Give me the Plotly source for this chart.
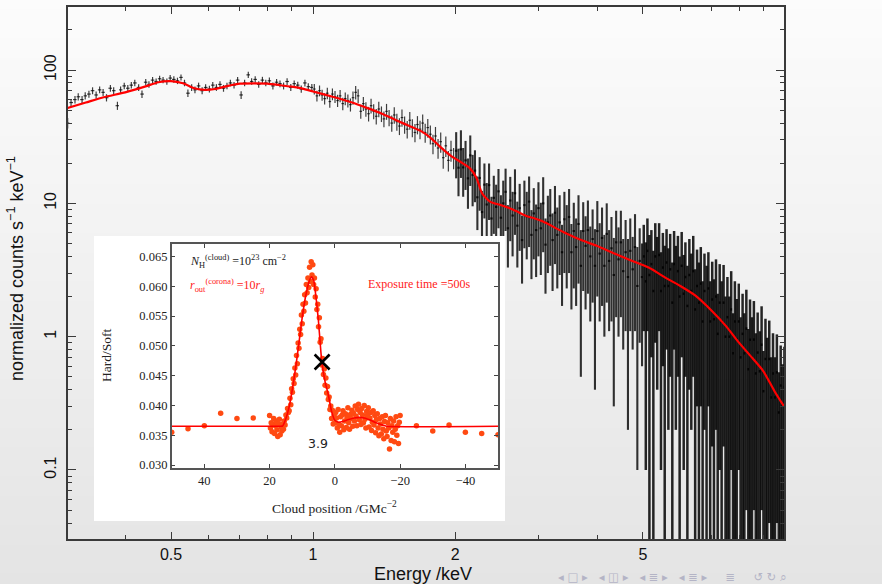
import numpy as np
import plotly.graph_objects as go

# ---------------- main spectrum data (energy keV, counts, 1-sigma error) ----------------
energy_a = [0.302, 0.307, 0.313, 0.318, 0.324, 0.329, 0.335, 0.341, 0.347, 0.353,
            0.359, 0.365, 0.372, 0.378, 0.385, 0.391, 0.398, 0.405, 0.412, 0.419,
            0.427, 0.434, 0.442, 0.449, 0.457, 0.465, 0.473, 0.481, 0.490, 0.498,
            0.507, 0.516, 0.525, 0.534, 0.543, 0.553, 0.562, 0.572, 0.582, 0.592,
            0.603, 0.613, 0.624, 0.635, 0.646, 0.657, 0.668, 0.680, 0.692, 0.704,
            0.716, 0.729, 0.741, 0.754, 0.767, 0.781, 0.794, 0.808, 0.822, 0.837,
            0.851, 0.866, 0.881, 0.897, 0.912, 0.928, 0.944, 0.961, 0.977, 0.994]
counts_a = [40, 57, 60, 63, 60, 64, 66, 70, 65, 71,
            68, 62, 73, 70, 54, 71, 76, 73, 77, 80,
            74, 66, 81, 78, 84, 82, 86, 84, 82, 87,
            85, 83, 88, 80, 67, 74, 71, 76, 70, 74,
            72, 77, 74, 78, 73, 76, 80, 77, 84, 65,
            80, 92, 82, 85, 78, 84, 80, 83, 76, 81,
            79, 76, 82, 74, 79, 77, 72, 80, 75, 74]
errors_a = [3.6, 3.7, 3.8, 3.9, 3.8, 4.0, 4.0, 4.2, 4.0, 4.2,
            4.1, 3.9, 4.3, 4.2, 3.8, 4.2, 4.4, 4.3, 4.4, 4.5,
            4.3, 4.2, 4.5, 4.4, 4.6, 4.5, 4.7, 4.6, 4.5, 4.7,
            4.6, 4.6, 4.7, 4.5, 4.3, 4.3, 4.2, 4.4, 4.2, 4.3,
            4.3, 4.4, 4.3, 4.5, 4.3, 4.4, 4.5, 4.4, 4.6, 4.3,
            4.5, 4.9, 4.6, 4.7, 4.5, 4.9, 4.6, 4.7, 4.5, 4.6,
            4.6, 4.5, 4.7, 4.5, 4.6, 4.6, 4.4, 4.7, 4.6, 4.6]

energy_b = [1.006, 1.019, 1.032, 1.045, 1.058, 1.072, 1.085, 1.099, 1.113, 1.127,
            1.141, 1.156, 1.170, 1.185, 1.200, 1.215, 1.231, 1.246, 1.262, 1.278,
            1.294, 1.311, 1.327, 1.344, 1.361, 1.378, 1.396, 1.413, 1.431, 1.449,
            1.468, 1.486, 1.505, 1.524, 1.543, 1.563, 1.583, 1.603, 1.623, 1.644,
            1.664, 1.685, 1.707, 1.728, 1.750, 1.772, 1.795, 1.817, 1.840, 1.864,
            1.887, 1.911, 1.935, 1.960, 1.985]
counts_b = [72, 64, 70, 65, 61, 67, 58, 66, 63, 59,
            64, 56, 61, 59, 55, 62, 68, 64, 49, 56,
            51, 47, 54, 49, 45, 51, 47, 43, 49, 44,
            40, 46, 41, 38, 44, 39, 36, 42, 37, 34,
            39, 36, 40, 34, 37, 33, 28, 32, 26, 29,
            22, 27, 21, 25, 22]
errors_b = [6.5, 5.9, 6.5, 6.2, 5.9, 6.6, 5.8, 6.7, 6.5, 6.2,
            6.8, 6.0, 6.7, 6.6, 6.2, 7.1, 8.0, 7.6, 5.9, 6.8,
            6.3, 5.9, 6.9, 6.3, 5.9, 6.7, 6.3, 5.8, 6.7, 6.1,
            5.6, 6.5, 5.9, 5.5, 6.5, 5.8, 5.4, 6.4, 5.7, 5.3,
            6.1, 5.7, 6.4, 5.5, 6.0, 5.4, 4.7, 5.4, 4.4, 5.0,
            3.8, 4.7, 3.7, 4.5, 4.0]

energy_c = [2.010, 2.033, 2.057, 2.080, 2.104, 2.129, 2.153, 2.178, 2.203, 2.229,
            2.254, 2.280, 2.307, 2.333, 2.360, 2.388, 2.415, 2.443, 2.471, 2.500,
            2.529, 2.558, 2.587, 2.617, 2.647, 2.678, 2.709, 2.740, 2.772, 2.804,
            2.836, 2.869, 2.902, 2.935, 2.969, 3.003, 3.038, 3.073, 3.108, 3.144,
            3.181, 3.217, 3.255, 3.292, 3.330, 3.369, 3.408, 3.447, 3.487, 3.527,
            3.568, 3.609, 3.651, 3.693, 3.736, 3.779, 3.822, 3.867, 3.911, 3.956,
            4.002, 4.048, 4.095, 4.142, 4.190, 4.239, 4.288, 4.337, 4.387, 4.438,
            4.489, 4.541, 4.594, 4.647, 4.700, 4.755, 4.810, 4.865, 4.921, 4.978]
counts_c = [24.8, 18.5, 25.4, 18.6, 21.0, 15.4, 22.9, 16.3, 17.6, 11.1,
            15.5, 8.6, 13.8, 9.8, 13.7, 7.7, 11.0, 9.4, 12.3, 7.8,
            10.0, 12.2, 6.5, 10.5, 8.1, 11.9, 6.8, 9.2, 5.3, 9.7,
            8.0, 10.3, 5.8, 8.4, 6.3, 9.2, 6.5, 10.0, 4.9, 7.2,
            8.1, 5.3, 8.5, 5.8, 7.2, 4.3, 7.6, 6.0, 7.9, 4.3,
            6.2, 4.7, 7.0, 3.4, 6.2, 4.8, 6.3, 4.0, 5.4, 3.4,
            6.2, 4.2, 5.5, 3.4, 5.9, 3.7, 4.6, 2.9, 5.1, 3.8,
            5.1, 3.1, 4.3, 2.8, 4.4, 3.2, 4.7, 2.4, 3.7, 2.8]
errors_c = [9.4, 7.2, 9.9, 7.4, 8.4, 6.3, 9.4, 6.8, 7.4, 4.8,
            6.7, 3.8, 6.1, 4.4, 6.2, 3.5, 5.1, 4.4, 5.8, 3.7,
            4.8, 6.0, 3.2, 5.3, 4.1, 6.1, 3.5, 4.8, 2.8, 5.1,
            4.2, 5.6, 3.1, 4.6, 3.5, 5.2, 3.6, 5.7, 2.8, 4.2,
            4.7, 3.1, 5.0, 3.5, 4.3, 2.6, 4.6, 3.7, 4.9, 2.7,
            3.9, 3.0, 4.5, 2.9, 4.0, 3.2, 4.2, 2.7, 3.6, 3.0,
            4.2, 2.9, 3.8, 2.4, 4.1, 2.6, 3.3, 2.6, 3.7, 2.8,
            3.7, 2.3, 3.2, 2.6, 3.3, 2.4, 3.6, 2.3, 2.8, 2.2]

energy_d = [5.02, 5.07, 5.11, 5.16, 5.21, 5.26, 5.31, 5.36, 5.41, 5.46,
            5.51, 5.56, 5.61, 5.66, 5.71, 5.77, 5.82, 5.87, 5.93, 5.98,
            6.04, 6.10, 6.15, 6.21, 6.27, 6.33, 6.39, 6.45, 6.51, 6.57,
            6.63, 6.69, 6.75, 6.82, 6.88, 6.94, 7.01, 7.07, 7.14, 7.20,
            7.27, 7.34, 7.41, 7.48, 7.55, 7.62, 7.69, 7.76, 7.83, 7.90,
            7.98, 8.05, 8.13, 8.20, 8.28, 8.36, 8.43, 8.51, 8.59, 8.67,
            8.75, 8.84, 8.92, 9.00, 9.09, 9.17, 9.26, 9.35, 9.43, 9.52,
            9.61, 9.70, 9.79, 9.88, 9.97]
counts_d = [4.0, 2.6, 4.4, 2.9, 3.5, 2.2, 4.0, 3.0, 4.1, 2.2,
            3.3, 2.4, 3.6, 2.4, 3.2, 1.8, 3.5, 2.5, 3.1, 2.0,
            3.4, 2.1, 2.8, 1.7, 2.9, 2.2, 3.1, 1.6, 2.4, 1.8,
            2.5, 1.3, 2.2, 1.7, 2.3, 1.3, 1.9, 1.35, 2.0, 1.05,
            1.8, 1.3, 1.8, 1.0, 1.4, 1.0, 1.6, 0.75, 1.3, 0.96,
            1.3, 0.7, 1.05, 0.75, 1.15, 0.57, 0.95, 0.7, 0.95, 0.53,
            0.76, 0.55, 0.87, 0.39, 0.68, 0.49, 0.68, 0.35, 0.53, 0.35,
            0.54, 0.27, 0.43, 0.31, 0.42]
errors_d = [2.9, 2.5, 3.3, 2.9, 2.8, 2.2, 3.1, 2.6, 3.0, 2.1,
            2.7, 2.4, 2.8, 2.2, 2.7, 1.8, 2.7, 2.3, 2.6, 2.0,
            2.7, 2.0, 2.3, 1.7, 2.5, 2.0, 2.6, 1.6, 2.1, 1.8,
            2.2, 1.3, 2.0, 1.7, 2.0, 1.3, 1.75, 1.35, 1.8, 1.05,
            1.7, 1.3, 1.65, 1.0, 1.4, 1.0, 1.5, 0.75, 1.3, 0.96,
            1.2, 0.7, 1.05, 0.75, 1.1, 0.57, 0.95, 0.7, 0.9, 0.53,
            0.76, 0.55, 0.82, 0.39, 0.68, 0.49, 0.64, 0.35, 0.53, 0.35,
            0.5, 0.27, 0.43, 0.31, 0.42]

# model curve of the spectrum
model_energy = [0.30, 0.33, 0.36, 0.40, 0.44, 0.47, 0.50, 0.53, 0.56, 0.59,
                0.62, 0.66, 0.70, 0.75, 0.80, 0.85, 0.90, 0.95, 1.00, 1.10,
                1.20, 1.30, 1.40, 1.50, 1.60, 1.70, 1.77, 1.85, 1.95, 2.05,
                2.15, 2.22, 2.28, 2.37, 2.50, 2.61, 2.72, 2.84, 2.95, 3.07,
                3.39, 3.70, 3.99, 4.35, 4.69, 5.14, 5.60, 6.00, 6.45, 7.00,
                7.50, 7.97, 8.50, 9.00, 9.50, 9.95]
model_flux = [51.5, 57, 62.5, 68, 75, 81, 82.5, 79.5, 73, 71,
              72, 76, 79, 79.5, 79, 77, 75, 72.5, 69, 63,
              57.5, 52, 47, 42, 38, 34.5, 31.3, 27, 23, 20.5,
              18.3, 15.5, 11.9, 10.3, 9.7, 9.2, 8.6, 8.0, 7.7, 7.3,
              6.1, 5.3, 4.8, 4.2, 3.76, 3.3, 2.75, 2.4, 2.04, 1.56,
              1.2, 0.91, 0.7, 0.55, 0.39, 0.30]

x_tick_vals = [0.5, 1, 2, 5]
x_tick_text = ["0.5", "1", "2", "5"]
y_tick_vals = [0.1, 1, 10, 100]
y_tick_text = ["0.1", "1", "10", "100"]

# ---------------- inset: hardness ratio vs cloud position ----------------
inset_x = [20, 19.75, 19.5, 19.25, 19, 18.75, 18.5, 18.25,
           18, 17.75, 17.5, 17.25, 17, 16.75, 16.5, 16.25,
           16, 15.75, 15.5, 15.25, 15, 14.75, 14.5, 14.25,
           14, 13.75, 13.5, 13.25, 13, 12.75, 12.5, 12.25,
           12, 11.75, 11.5, 11.25, 11, 10.75, 10.5, 10.25,
           10, 9.75, 9.5, 9.25, 9, 8.75, 8.5, 8.25,
           8, 7.75, 7.5, 7.25, 7, 6.75, 6.5, 6.25,
           6, 5.75, 5.5, 5.25, 5, 4.75, 4.5, 4.25,
           4, 3.75, 3.5, 3.25, 3, 2.75, 2.5, 2.25,
           2, 1.75, 1.5, 1.25, 1, 0.75, 0.5, 0.25,
           0, -0.25, -0.5, -0.75, -1, -1.25, -1.5, -1.75,
           -2, -2.25, -2.5, -2.75, -3, -3.25, -3.5, -3.75,
           -4, -4.25, -4.5, -4.75, -5, -5.25, -5.5, -5.75,
           -6, -6.25, -6.5, -6.75, -7, -7.25, -7.5, -7.75,
           -8, -8.25, -8.5, -8.75, -9, -9.25, -9.5, -9.75,
           -10, -10.25, -10.5, -10.75, -11, -11.25, -11.5, -11.75,
           -12, -12.25, -12.5, -12.75, -13, -13.25, -13.5, -13.75,
           -14, -14.25, -14.5, -14.75, -15, -15.25, -15.5, -15.75,
           -16, -16.25, -16.5, -16.75, -17, -17.25, -17.5, -17.75,
           -18, -18.25, -18.5, -18.75, -19, -19.25, -19.5, -19.75,
           -20]
inset_y = [0.0383, 0.0362, 0.0371, 0.0356, 0.0368, 0.0378, 0.0353, 0.0366,
           0.0374, 0.0359, 0.0348, 0.0369, 0.0377, 0.0351, 0.0364, 0.0357,
           0.0369, 0.0360, 0.0374, 0.0367, 0.0384, 0.0379, 0.0395, 0.0388,
           0.0391, 0.0412, 0.0401, 0.0428, 0.0422, 0.0445, 0.0437, 0.0463,
           0.0451, 0.0484, 0.0470, 0.0505, 0.0496, 0.0528, 0.0519, 0.0552,
           0.0537, 0.0570, 0.0558, 0.0586, 0.0572, 0.0603, 0.0589, 0.0614,
           0.0598, 0.0632, 0.0608, 0.0641, 0.0619, 0.0636, 0.0603, 0.0614,
           0.0582, 0.0596, 0.0561, 0.0570, 0.0532, 0.0547, 0.0506, 0.0512,
           0.0468, 0.0479, 0.0452, 0.0461, 0.0434, 0.0446, 0.0421, 0.0432,
           0.0410, 0.0414, 0.0393, 0.0399, 0.0378, 0.0392, 0.0369, 0.0384,
           0.0371, 0.0388, 0.0379, 0.0362, 0.0393, 0.0368, 0.0355, 0.0381,
           0.0366, 0.0384, 0.0391, 0.0359, 0.0374, 0.0386, 0.0363, 0.0380,
           0.0396, 0.0371, 0.0360, 0.0385, 0.0378, 0.0392, 0.0365, 0.0387,
           0.0374, 0.0399, 0.0382, 0.0366, 0.0393, 0.0402, 0.0376, 0.0388,
           0.0368, 0.0395, 0.0384, 0.0371, 0.0400, 0.0377, 0.0362, 0.0390,
           0.0383, 0.0396, 0.0364, 0.0379, 0.0388, 0.0358, 0.0372, 0.0391,
           0.0367, 0.0383, 0.0354, 0.0376, 0.0386, 0.0362, 0.0349, 0.0378,
           0.0369, 0.0352, 0.0381, 0.0360, 0.0344, 0.0373, 0.0383, 0.0357,
           0.0348, 0.0371, 0.0362, 0.0327, 0.0378, 0.0341, 0.0366, 0.0355,
           0.0374, 0.0339, 0.0360, 0.0381, 0.0350, 0.0366, 0.0336, 0.0372,
           0.0383]
sparse_x = [50, 45, 40, 35, 30, 25, -25, -30, -35, -40, -45, -50]
sparse_y = [0.0355, 0.0361, 0.0366, 0.0387, 0.0378, 0.0379,
            0.0366, 0.0357, 0.0367, 0.0355, 0.0353, 0.0351]
curve_x = [50, 17, 16, 15, 14, 13, 12, 11, 10, 9, 8, 7.2, 6.5, 6, 5.5, 5, 4.5, 4,
           3, 2, 1, 0, -1, -2.4, -4, -6, -7.5, -9, -11, -13, -14.7, -16, -50]
curve_y = [0.0365, 0.0365, 0.03655, 0.0378, 0.0398, 0.0428, 0.0464, 0.0505, 0.0548,
           0.0582, 0.0606, 0.0616, 0.0610, 0.0592, 0.0568, 0.0540, 0.0505, 0.0473,
           0.0440, 0.0418, 0.0390, 0.0375, 0.0372, 0.0373, 0.0376, 0.0379, 0.0380,
           0.0379, 0.0375, 0.0370, 0.0367, 0.0365, 0.0365]
cross_x = [3.9]
cross_y = [0.0473]
inset_x_ticks = [40, 20, 0, -20, -40]

# ---------------- geometry helpers (pixel -> paper) ----------------
W, H = 882, 584
ML, MR, MT, MB = 68, 98, 7, 45
PW, PH = W - ML - MR, H - MT - MB


def px(x):
    return (x - ML) / PW


def py(y):
    return (H - MB - y) / PH


# ---------------- build error-bar segments ----------------
E = np.array(energy_a + energy_b + energy_c + energy_d, dtype=float)
C = np.array(counts_a + counts_b + counts_c + counts_d, dtype=float)
S = np.array(errors_a + errors_b + errors_c + errors_d, dtype=float)
lg = np.log10(E)
mid = (lg[1:] + lg[:-1]) / 2
left = 10 ** np.concatenate([[2 * lg[0] - mid[0]], mid])
right = 10 ** np.concatenate([mid, [2 * lg[-1] - mid[-1]]])


def segments(mask):
    xs, ys = [], []
    for e, l, r, c, s in zip(E[mask], left[mask], right[mask], C[mask], S[mask]):
        lo = c - s
        if lo < 0.005:
            lo = 0.005
        xs += [e, e, None, l, r, None]
        ys += [lo, c + s, None, c, c, None]
    return xs, ys


fig = go.Figure()
xs, ys = segments(E < 2.0)
fig.add_trace(go.Scatter(x=xs, y=ys, mode="lines", line=dict(color="rgba(0,0,0,0.75)", width=1.2),
                         hoverinfo="skip", showlegend=False))
xs, ys = segments((E >= 2.0) & (E < 5.0))
fig.add_trace(go.Scatter(x=xs, y=ys, mode="lines", line=dict(color="rgba(0,0,0,0.8)", width=2.1),
                         hoverinfo="skip", showlegend=False))
xs, ys = segments(E >= 5.0)
fig.add_trace(go.Scatter(x=xs, y=ys, mode="lines", line=dict(color="rgba(0,0,0,0.85)", width=2.5),
                         hoverinfo="skip", showlegend=False))
fig.add_trace(go.Scatter(x=model_energy, y=model_flux, mode="lines",
                         line=dict(color="#ff0000", width=2.2, shape="spline", smoothing=0.6),
                         hoverinfo="skip", showlegend=False))

# white inset panel (its own subplot so its background covers the spectrum)
fig.add_trace(go.Scatter(x=[0.5], y=[0.5], xaxis="x2", yaxis="y2", mode="markers",
                         marker=dict(opacity=0), hoverinfo="skip", showlegend=False))

# inset content
fig.add_trace(go.Scatter(x=inset_x + sparse_x, y=inset_y + sparse_y, xaxis="x3", yaxis="y3",
                         mode="markers", marker=dict(color="#ff4a12", size=5.5),
                         hoverinfo="skip", showlegend=False))
fig.add_trace(go.Scatter(x=curve_x, y=curve_y, xaxis="x3", yaxis="y3", mode="lines",
                         line=dict(color="#ff0000", width=1.6, shape="spline", smoothing=0.5),
                         hoverinfo="skip", showlegend=False))
fig.add_trace(go.Scatter(x=cross_x, y=cross_y, xaxis="x3", yaxis="y3", mode="markers",
                         marker=dict(symbol="x-thin", size=15, line=dict(width=2.6, color="black")),
                         hoverinfo="skip", showlegend=False))

# ---------------- background gradient (slide) ----------------
shapes = []
N = 60
for i in range(N):
    t = (i + 0.5) / N
    g = int(round(252 - 24 * t))
    shapes.append(dict(type="rect", xref="paper", yref="paper", layer="below",
                       x0=px(-2), x1=px(W + 2), y0=py(H * (i + 1) / N + 0.5), y1=py(H * i / N - 0.5),
                       fillcolor=f"rgb({g},{g},{g})", line=dict(width=0)))

SANS = "Liberation Sans, Arial, sans-serif"
SERIF = "Liberation Serif, Times New Roman, serif"
AXC = "#3a3a3a"

annotations = [
    dict(x=px(16), y=py(269), xref="paper", yref="paper", text="normalized counts s<sup>−1</sup> keV<sup>−1</sup>",
         textangle=-90, showarrow=False, font=dict(family=SANS, size=18, color="#111"),
         xanchor="center", yanchor="middle"),
    dict(x=px(423), y=py(573.5), xref="paper", yref="paper", text="Energy /keV", showarrow=False,
         font=dict(family=SANS, size=18, color="#111"), xanchor="center", yanchor="middle"),
    dict(x=px(106), y=py(356), xref="paper", yref="paper", text="Hard/Soft", textangle=-90,
         showarrow=False, font=dict(family=SERIF, size=13.5, color="#222"), xanchor="center", yanchor="middle"),
    dict(x=px(334), y=py(507), xref="paper", yref="paper", text="Cloud position /GMc<sup>−2</sup>",
         showarrow=False, font=dict(family=SERIF, size=13.5, color="#222"), xanchor="center", yanchor="middle"),
    dict(x=45, y=0.0642, xref="x3", yref="y3",
         text="<i>N</i><sub>H</sub><sup>(cloud)</sup> =10<sup>23</sup> cm<sup>−2</sup>",
         showarrow=False, font=dict(family=SERIF, size=12, color="#222"), xanchor="left", yanchor="middle"),
    dict(x=45, y=0.0602, xref="x3", yref="y3",
         text="<i>r</i><sub>out</sub><sup>(corona)</sup> =10<i>r</i><sub><i>g</i></sub>",
         showarrow=False, font=dict(family=SERIF, size=12, color="#ff2020"), xanchor="left", yanchor="middle"),
    dict(x=-42, y=0.0604, xref="x3", yref="y3", text="Exposure time =500s",
         showarrow=False, font=dict(family=SERIF, size=12, color="#ff2020"), xanchor="right", yanchor="middle"),
    dict(x=5.2, y=0.0336, xref="x3", yref="y3", text="3.9",
         showarrow=False, font=dict(family="DejaVu Sans, sans-serif", size=12.5, color="#222"),
         xanchor="center", yanchor="middle"),
    dict(x=px(556), y=py(577), xref="paper", yref="paper",
         text="◂ □ ▸   ◂ ◫ ▸   ◂ ≣ ▸   ◂ ≣ ▸     ≣     ↺ ↻ ⌕",
         showarrow=False, font=dict(family="DejaVu Sans, sans-serif", size=11.5, color="#b4b4c6"),
         xanchor="left", yanchor="middle"),
]

fig.update_layout(
    width=W, height=H,
    margin=dict(l=ML, r=MR, t=MT, b=MB, pad=0),
    paper_bgcolor="#ffffff", plot_bgcolor="#ffffff",
    template="none", showlegend=False,
    shapes=shapes, annotations=annotations,
    xaxis=dict(type="log", range=[np.log10(0.3025), np.log10(9.95)], domain=[0, 1],
               tickmode="array", tickvals=x_tick_vals, ticktext=x_tick_text,
               ticks="inside", ticklen=7, tickwidth=1.2, tickcolor=AXC,
               minor=dict(tickmode="array", tickvals=[0.3, 0.4, 0.6, 0.7, 0.8, 0.9, 3, 4, 6, 7, 8, 9],
                          ticks="inside", ticklen=4, tickwidth=1.1, tickcolor=AXC, showgrid=False),
               showline=True, linecolor=AXC, linewidth=1.5, mirror="ticks",
               showgrid=False, zeroline=False, ticklabelstandoff=0,
               tickfont=dict(family=SANS, size=16, color="#111")),
    yaxis=dict(type="log", range=[-1.5176, 2.4726], domain=[0, 1],
               tickmode="array", tickvals=y_tick_vals, ticktext=y_tick_text, tickangle=-90,
               ticks="inside", ticklen=8, tickwidth=1.2, tickcolor=AXC,
               minor=dict(tickmode="array",
                          tickvals=[0.03, 0.04, 0.05, 0.06, 0.07, 0.08, 0.09,
                                    0.2, 0.3, 0.4, 0.5, 0.6, 0.7, 0.8, 0.9,
                                    2, 3, 4, 5, 6, 7, 8, 9,
                                    20, 30, 40, 50, 60, 70, 80, 90, 200, 300],
                          ticks="inside", ticklen=4.5, tickwidth=1.1, tickcolor=AXC, showgrid=False),
               showline=True, linecolor=AXC, linewidth=1.5, mirror="ticks",
               showgrid=False, zeroline=False, ticklabelstandoff=4,
               tickfont=dict(family=SANS, size=16, color="#111")),
    xaxis2=dict(domain=[px(94), px(505)], range=[0, 1], anchor="y2", visible=False),
    yaxis2=dict(domain=[py(521), py(236)], range=[0, 1], anchor="x2", visible=False),
    xaxis3=dict(domain=[px(171.7), px(498)], range=[50, -50], anchor="y3",
                tickmode="array", tickvals=inset_x_ticks,
                ticks="inside", ticklen=4, tickwidth=1, tickcolor="#444",
                showline=True, linecolor="#555", linewidth=1.5, mirror="ticks",
                showgrid=False, zeroline=False,
                tickfont=dict(family=SERIF, size=12.5, color="#222")),
    yaxis3=dict(domain=[py(468), py(244)], range=[0.0295, 0.0671], anchor="x3",
                tick0=0.03, dtick=0.005, tickformat=".3f",
                ticks="inside", ticklen=4, tickwidth=1, tickcolor="#444",
                showline=True, linecolor="#555", linewidth=1.5, mirror="ticks",
                showgrid=False, zeroline=False,
                tickfont=dict(family=SERIF, size=12.5, color="#222")),
)

fig.write_html("out.html", config={"displayModeBar": False},
               post_script="document.body.style.margin='0px';")
